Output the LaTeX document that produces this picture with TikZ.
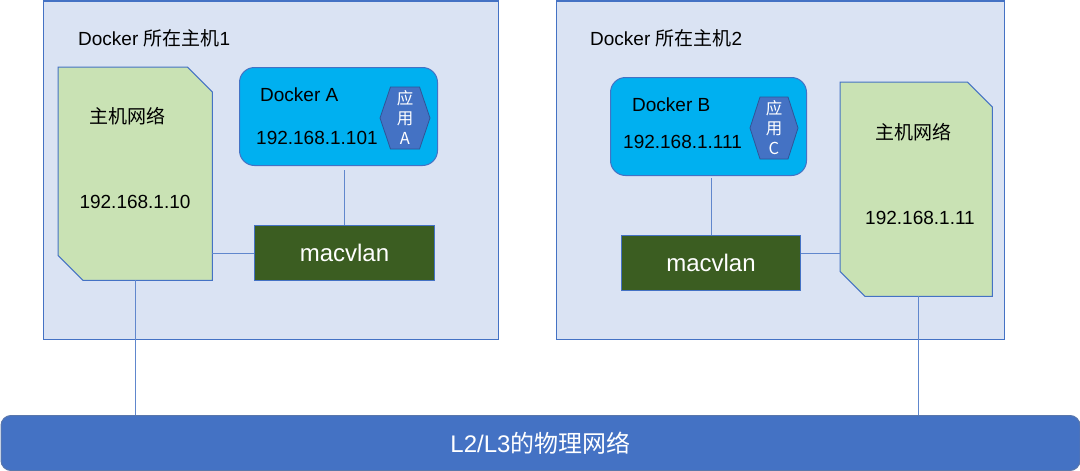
\documentclass[tikz,border=0pt]{standalone}
\usepackage{fontspec}
\setmainfont{Liberation Sans}
\newfontfamily\cjk{Noto Sans CJK SC}
\definecolor{hostfill}{HTML}{DAE3F3}
\definecolor{edgeblue}{HTML}{4472C4}
\definecolor{netgreen}{HTML}{C9E2B4}
\definecolor{dockfill}{HTML}{00B0F0}
\definecolor{deepblue}{HTML}{2F5597}
\definecolor{macgreen}{HTML}{3B5D21}
\tikzset{
  host/.style={draw=edgeblue,fill=hostfill,line width=1pt,anchor=north west,inner sep=0pt},
  hostnet/.style={inner sep=0pt,anchor=north west},
  netline/.style={draw=edgeblue,fill=netgreen,line width=1pt},
  dockbox/.style={draw=edgeblue,fill=dockfill,rounded corners=15pt,line width=1pt,anchor=north west,inner sep=0pt},
  macbox/.style={draw=edgeblue,fill=macgreen,line width=1pt,anchor=north west,inner sep=0pt,
    text=white,font=\fontsize{24}{28}\selectfont},
  hexa/.style={draw=deepblue,fill=edgeblue,line width=0.8pt},
  apptext/.style={text=white,align=center,inner sep=0pt,font=\cjk\fontsize{16.5}{20}\selectfont},
  txt/.style={inner sep=0pt,font=\fontsize{19}{23}\selectfont},
  link/.style={draw=edgeblue!85,line width=1pt}
}
\begin{document}
\begin{tikzpicture}[x=1pt,y=-1pt]
\useasboundingbox (0,0) rectangle (1080,471);
% hosts
\node[host,minimum width=455pt,minimum height=338pt] (host1) at (43,0.5) {};
\node[host,minimum width=448pt,minimum height=338pt] (host2) at (556,0.5) {};
\node[txt,anchor=west] (title1) at (78,38) {Docker {\cjk 所在主机}1};
\node[txt,anchor=west] (title2) at (590,38) {Docker {\cjk 所在主机}2};
% host networks, two corners cut off
\node[hostnet,minimum width=154pt,minimum height=213pt] (net1) at (58,67) {};
\node[hostnet,minimum width=152pt,minimum height=214pt] (net2) at (840,82) {};
\foreach \n in {net1,net2}{
  \draw[netline] (\n.north west) -- ([xshift=-25pt]\n.north east) -- ([yshift=-25pt]\n.north east)
    -- (\n.south east) -- ([xshift=25pt]\n.south west) -- ([yshift=25pt]\n.south west) -- cycle;
}
\node[txt] (netname1) at (127,116) {\cjk 主机网络};
\node[txt] (netip1) at (135,202) {192.168.1.10};
\node[txt] (netname2) at (913,132) {\cjk 主机网络};
\node[txt] (netip2) at (920,218) {192.168.1.11};
% containers
\node[dockbox,minimum width=198pt,minimum height=98pt] (dockA) at (239,67) {};
\node[dockbox,minimum width=196pt,minimum height=98pt] (dockB) at (610,77) {};
\node[txt,anchor=west] (nameA) at (260,95) {Docker A};
\node[txt,anchor=west] (ipA) at (256,138) {192.168.1.101};
\node[txt,anchor=west] (nameB) at (632,105) {Docker B};
\node[txt,anchor=west] (ipB) at (623,142) {192.168.1.111};
\draw[hexa] (405,118) +(-25,0) -- +(-14.5,-31) -- +(14.5,-31) -- +(25,0) -- +(14.5,31) -- +(-14.5,31) -- cycle;
\node[apptext] (appA) at (405,118) {应\\用\\A};
\draw[hexa] (774,128) +(-24,0) -- +(-14,-31) -- +(14,-31) -- +(24,0) -- +(14,31) -- +(-14,31) -- cycle;
\node[apptext] (appC) at (774,128) {应\\用\\C};
% macvlan
\node[macbox,minimum width=180pt,minimum height=55pt] (mac1) at (254,225) {macvlan};
\node[macbox,minimum width=179pt,minimum height=55pt] (mac2) at (621,235) {macvlan};
% physical network
\node[draw=deepblue!80,fill=edgeblue,rounded corners=10pt,line width=1pt,anchor=north west,
  minimum width=1079pt,minimum height=55pt,inner sep=0pt,text=white,
  font=\fontsize{24}{28}\selectfont] (bus) at (0.5,415) {L2/L3{\cjk 的物理网络}};
% links
\coordinate (drop2) at ([xshift=2pt]net2.south);
\draw[link] (mac1.north) -- ([yshift=-4pt]dockA.south -| mac1.north);
\draw[link] (mac1.west) -- (mac1.west -| net1.east);
\draw[link] (mac2.north) -- ([yshift=-2pt]dockB.south -| mac2.north);
\draw[link] ([yshift=10pt]mac2.east) -- ([yshift=10pt]mac2.east -| net2.west);
\draw[link] (net1.south) -- (bus.north -| net1.south);
\draw[link] (drop2) -- (bus.north -| drop2);
\end{tikzpicture}
\end{document}
